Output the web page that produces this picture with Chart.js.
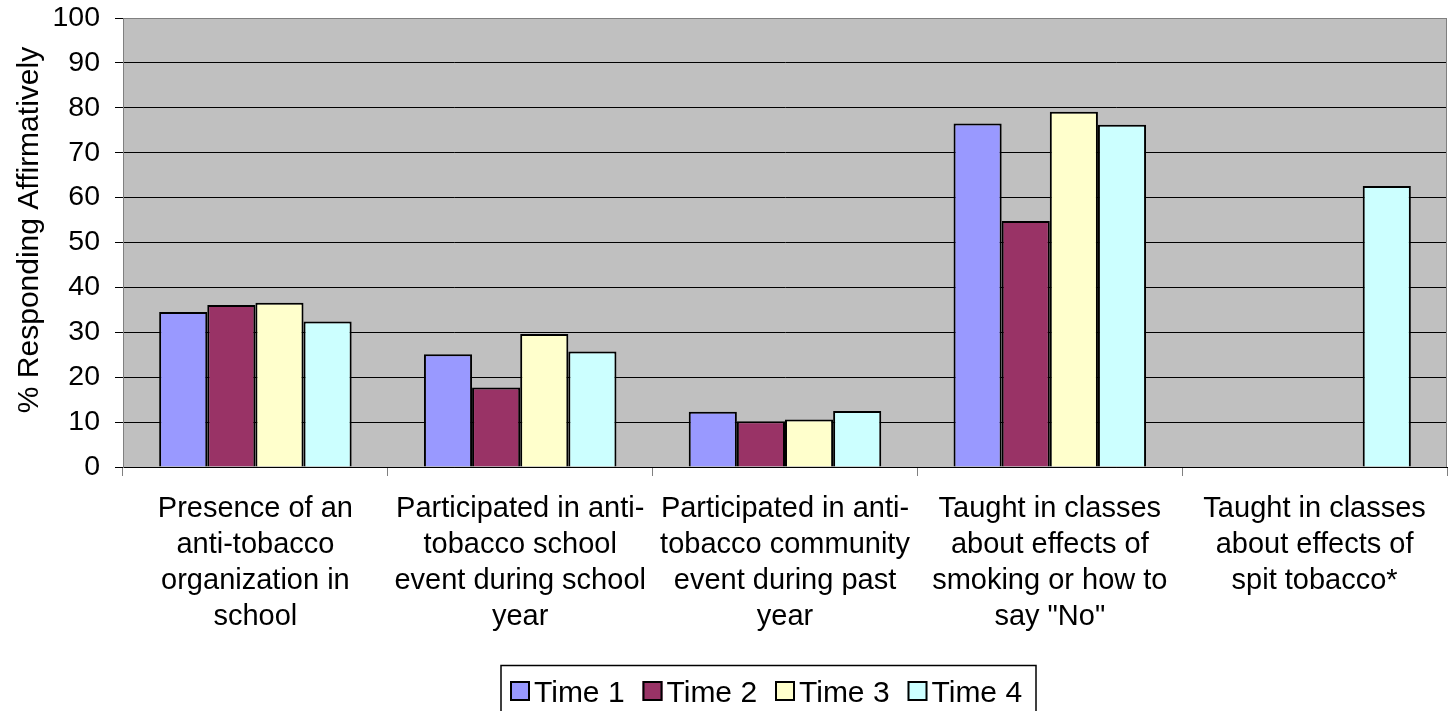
<!DOCTYPE html>
<html>
<head>
<meta charset="utf-8">
<script src="https://cdn.jsdelivr.net/npm/chart.js@4/dist/chart.umd.min.js"></script>
<style>
  html, body { margin: 0; padding: 0; background: #ffffff; overflow: hidden; }
  #wrap { width: 1454px; height: 711px; position: relative; }
</style>
</head>
<body>
<div id="wrap"><canvas id="c" width="1454" height="711"></canvas></div>
<script>
// Category labels, one array of lines per group
const categories = [
  ["Presence of an", "anti-tobacco", "organization in", "school"],
  ["Participated in anti-", "tobacco school", "event during school", "year"],
  ["Participated in anti-", "tobacco community", "event during past", "year"],
  ["Taught in classes", "about effects of", "smoking or how to", "say \"No\""],
  ["Taught in classes", "about effects of", "spit tobacco*"]
];

const seriesNames = ["Time 1", "Time 2", "Time 3", "Time 4"];

// % responding affirmatively per survey wave
const time1 = [34.5, 25.1, 12.3, 76.5, null];
const time2 = [36.1, 17.7, 10.2, 54.8, null];
const time3 = [36.6, 29.6, 10.6, 79.1, null];
const time4 = [32.4, 25.7, 12.5, 76.2, 62.6];

const yTicks = [0, 10, 20, 30, 40, 50, 60, 70, 80, 90, 100];
const yTitle = "% Responding Affirmatively";

const seriesColors = ["#9999FF", "#993366", "#FFFFCC", "#CCFFFF"];
const FONT = '"Liberation Sans", Arial, sans-serif';

const seriesValues = [time1, time2, time3, time4];

// Grey plot background and plot frame
const plotFrame = {
  id: 'plotFrame',
  beforeDraw(chart) {
    const { ctx, chartArea: a } = chart;
    ctx.save();
    ctx.fillStyle = '#C0C0C0';
    ctx.fillRect(a.left, a.top, a.right - a.left, a.bottom - a.top);
    ctx.restore();
  },
  afterDatasetsDraw(chart) {
    const { ctx, chartArea: a } = chart;
    ctx.save();
    ctx.strokeStyle = '#808080';
    ctx.lineWidth = 1;
    ctx.beginPath();
    ctx.moveTo(Math.round(a.left) + 0.5, Math.round(a.top) + 0.5);
    ctx.lineTo(Math.round(a.right) - 0.5, Math.round(a.top) + 0.5);
    ctx.lineTo(Math.round(a.right) - 0.5, Math.round(a.bottom));
    ctx.stroke();
    ctx.restore();
  }
};

// Rotated value-axis title
const axisTitle = {
  id: 'axisTitle',
  afterDraw(chart) {
    const { ctx } = chart;
    ctx.save();
    ctx.translate(30, 230);
    ctx.rotate(-Math.PI / 2);
    ctx.font = '30px ' + FONT;
    ctx.fillStyle = '#000000';
    ctx.textAlign = 'center';
    ctx.textBaseline = 'middle';
    ctx.fillText(yTitle, 0, 0);
    ctx.restore();
  }
};

// Boxed legend below the category labels
const boxedLegend = {
  id: 'boxedLegend',
  afterDraw(chart) {
    const { ctx } = chart;
    const ds = chart.data.datasets;
    ctx.save();
    ctx.strokeStyle = '#000000';
    ctx.lineWidth = 1.5;
    ctx.strokeRect(501, 665.5, 535, 50);
    ctx.font = '30px ' + FONT;
    ctx.textBaseline = 'alphabetic';
    ctx.textAlign = 'left';
    let x = 510;
    ds.forEach((d) => {
      ctx.fillStyle = d.backgroundColor;
      ctx.fillRect(x, 681, 20, 20);
      ctx.strokeStyle = '#000000';
      ctx.lineWidth = 2;
      ctx.strokeRect(x + 1, 682, 18, 18);
      ctx.fillStyle = '#000000';
      ctx.fillText(d.label, x + 24, 702);
      x += 132.5;
    });
    ctx.restore();
  }
};

new Chart(document.getElementById('c'), {
  type: 'bar',
  data: {
    labels: categories,
    datasets: seriesNames.map((name, i) => ({
      label: name,
      data: seriesValues[i],
      backgroundColor: seriesColors[i],
      borderColor: '#000000',
      borderWidth: 2,
      categoryPercentage: 0.727,
      barPercentage: 1.0
    }))
  },
  options: {
    responsive: false,
    animation: false,
    devicePixelRatio: 1,
    layout: { padding: { top: 18, right: 7, left: 0, bottom: 0 } },
    plugins: {
      legend: { display: false },
      tooltip: { enabled: false },
      title: { display: false }
    },
    scales: {
      x: {
        type: 'category',
        offset: true,
        grid: {
          offset: true,
          drawOnChartArea: false,
          drawTicks: true,
          tickLength: 9,
          tickColor: '#808080',
          lineWidth: 1
        },
        border: { display: true, color: '#000000', width: 1 },
        ticks: {
          autoSkip: false,
          maxRotation: 0,
          minRotation: 0,
          padding: 15,
          color: '#000000',
          font: { family: FONT, size: 29, lineHeight: 1.241 }
        },
        afterFit(s) { s.height = 244; s.paddingLeft = 0; s.paddingRight = 0; }
      },
      y: {
        min: 0,
        max: 100,
        afterBuildTicks(s) { s.ticks = yTicks.map(v => ({ value: v })); },
        grid: {
          color: (c) => (c.tick && c.tick.value === 100 ? '#808080' : '#000000'),
          tickColor: '#000000',
          drawTicks: true,
          tickLength: 8,
          lineWidth: 1
        },
        border: { display: true, color: '#808080', width: 1 },
        ticks: {
          padding: 15,
          color: '#000000',
          font: { family: FONT, size: 28.5 }
        },
        afterFit(s) { s.width = 123; s.paddingTop = 0; s.paddingBottom = 0; }
      }
    }
  },
  plugins: [plotFrame, axisTitle, boxedLegend]
});
</script>
</body>
</html>
